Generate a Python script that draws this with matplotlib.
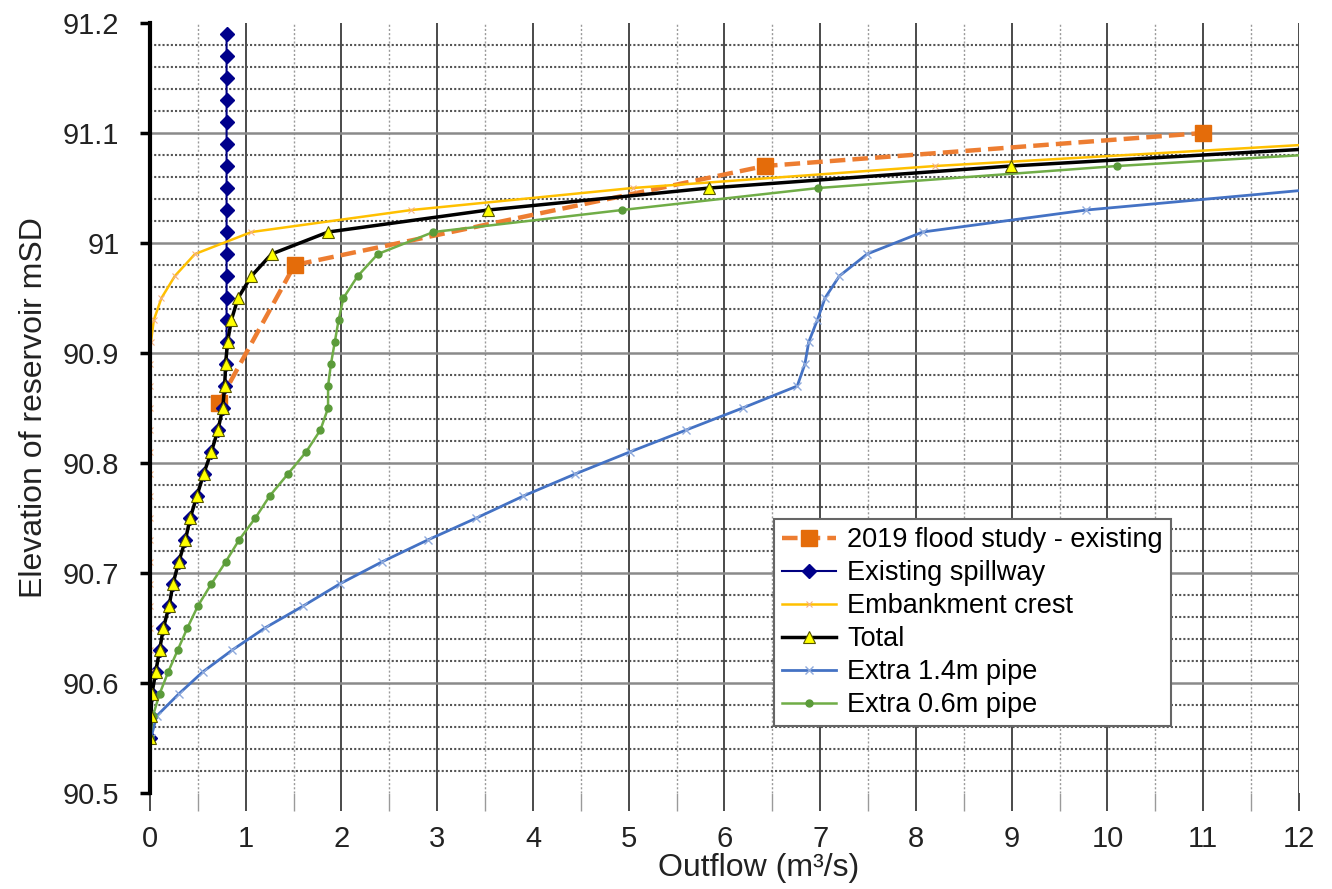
import numpy as np
import matplotlib
matplotlib.use("Agg")
import matplotlib.pyplot as plt
from matplotlib.ticker import MultipleLocator, FuncFormatter

plt.rcParams['font.family'] = ['Liberation Sans', 'DejaVu Sans']

# elevation steps used by the computed curves (every 0.02 m)
levels = [90.55, 90.57, 90.59, 90.61, 90.63, 90.65, 90.67, 90.69, 90.71, 90.73,
          90.75, 90.77, 90.79, 90.81, 90.83, 90.85, 90.87, 90.89, 90.91, 90.93,
          90.95, 90.97, 90.99, 91.01, 91.03, 91.05, 91.07, 91.09, 91.11, 91.13,
          91.15, 91.17, 91.19]

# 2019 flood study - existing
study_q = [0.72, 1.51, 6.42, 11.0]
study_h = [90.855, 90.98, 91.07, 91.10]

# existing spillway (all levels)
spill_q = [0.0, 0.01, 0.02, 0.06, 0.10, 0.14, 0.20, 0.24, 0.30, 0.37,
           0.42, 0.49, 0.56, 0.64, 0.71, 0.76, 0.78, 0.79, 0.80, 0.80,
           0.80, 0.80, 0.80, 0.80, 0.80, 0.80, 0.80, 0.80, 0.80, 0.80,
           0.80, 0.80, 0.80]

# embankment crest (levels up to 91.09)
crest_q = [0.0, 0.0, 0.0, 0.0, 0.0, 0.0, 0.0, 0.0, 0.0, 0.0,
           0.0, 0.0, 0.0, 0.0, 0.0, 0.0, 0.0, 0.0, 0.01, 0.04,
           0.12, 0.26, 0.47, 1.06, 2.73, 5.04, 8.2, 12.2]

# total (levels up to 91.09)
total_q = [0.0, 0.01, 0.02, 0.06, 0.10, 0.14, 0.20, 0.24, 0.30, 0.37,
           0.42, 0.49, 0.56, 0.64, 0.71, 0.76, 0.78, 0.79, 0.81, 0.85,
           0.92, 1.06, 1.27, 1.86, 3.53, 5.84, 8.99, 13.0]

# extra 1.4m pipe (levels up to 91.05)
pipe14_q = [0.01, 0.07, 0.30, 0.55, 0.86, 1.2, 1.6, 1.98, 2.42, 2.9,
            3.41, 3.9, 4.44, 5.01, 5.6, 6.19, 6.76, 6.84, 6.88, 6.97,
            7.05, 7.2, 7.49, 8.07, 9.78, 12.3]

# extra 0.6m pipe (levels up to 91.09)
pipe06_q = [0.0, 0.03, 0.10, 0.19, 0.29, 0.39, 0.50, 0.64, 0.79, 0.93,
            1.1, 1.25, 1.44, 1.63, 1.78, 1.86, 1.86, 1.89, 1.93, 1.97,
            2.02, 2.17, 2.38, 2.96, 4.93, 6.98, 10.1, 14.0]

fig = plt.figure(figsize=(13.32, 8.89), dpi=100)
ax = fig.add_axes([0.1126, 0.108, 0.8626, 0.8661])

ax.plot(study_q, study_h, color='#ED7D31', ls=(0, (3.5, 1.6)), lw=3.2, marker='s',
        ms=11, mfc='#E46C0A', mec='#E46C0A', label='2019 flood study - existing', zorder=3)
ax.plot(spill_q, levels, color='#000080', lw=1.5, marker='D', ms=7.5,
        mfc='#00008B', mec='#00008B', label='Existing spillway', zorder=4)
ax.plot(crest_q, levels[:len(crest_q)], color='#FFC000', lw=1.8, marker='x', ms=5,
        mec='#F4B183', mew=0.8, label='Embankment crest', zorder=5)
ax.plot(total_q, levels[:len(total_q)], color='black', lw=2.5, marker='^', ms=9,
        mfc='#FFFF00', mec='#555500', mew=0.8, label='Total', zorder=6)
ax.plot(pipe14_q, levels[:len(pipe14_q)], color='#4472C4', lw=2, marker='x', ms=6,
        mec='#8FAADC', mew=1, label='Extra 1.4m pipe', zorder=5)
ax.plot(pipe06_q, levels[:len(pipe06_q)], color='#70AD47', lw=1.8, marker='o', ms=5,
        mfc='#5B9B3A', mec='#5B9B3A', label='Extra 0.6m pipe', zorder=5)

ax.set_xlim(0, 12)
ax.set_ylim(90.5, 91.2)
ax.xaxis.set_major_locator(MultipleLocator(1))
ax.xaxis.set_minor_locator(MultipleLocator(0.5))
ax.yaxis.set_major_locator(MultipleLocator(0.1))
ax.yaxis.set_minor_locator(MultipleLocator(0.02))
ax.yaxis.set_major_formatter(FuncFormatter(lambda v, p: '%g' % round(v, 2)))

ax.grid(which='major', axis='x', color='#4a4a4a', lw=1.4, ls='-')
ax.grid(which='minor', axis='x', color='#9a9a9a', lw=1.0, ls=(0, (1.5, 1.5)))
ax.grid(which='major', axis='y', color='#8a8a8a', lw=1.8, ls='-')
ax.grid(which='minor', axis='y', color='#555555', lw=1.5, ls=(0, (1, 1)))
ax.set_axisbelow(True)
fig.canvas.draw()
for gl, v in zip(ax.yaxis.get_gridlines(), ax.get_yticks()):
    if v < 90.51 or v > 91.19:
        gl.set_visible(False)

for s in ['top', 'right', 'bottom']:
    ax.spines[s].set_visible(False)
ax.spines['left'].set_linewidth(3)
ax.spines['left'].set_zorder(7)

ax.tick_params(axis='y', which='major', direction='out', length=7, width=2.5,
               labelsize=21, pad=15, colors='black', labelcolor='#222222')
ax.tick_params(axis='y', which='minor', length=0)
ax.tick_params(axis='x', which='major', direction='out', length=13, width=1.4,
               color='#4a4a4a', labelsize=21, pad=10, labelcolor='#222222')
ax.tick_params(axis='x', which='minor', direction='out', length=13, width=1.0,
               color='#9a9a9a')

ax.set_xlabel('Outflow (m³/s)', fontsize=23, color='#222222')
ax.xaxis.set_label_coords(0.53, -0.078)
ax.set_ylabel('Elevation of reservoir mSD', fontsize=23, color='#222222')
ax.yaxis.set_label_coords(-0.088, 0.5)

leg = ax.legend(loc='upper left', bbox_to_anchor=(0.543, 0.356), borderaxespad=0,
                fontsize=19.5, frameon=True, fancybox=False, edgecolor='#666666',
                framealpha=1, handlelength=2.0, labelspacing=0.26, borderpad=0.3,
                handletextpad=0.4)
leg.get_frame().set_linewidth(1.5)
leg.set_zorder(10)

fig.savefig('out.png', dpi=100)
